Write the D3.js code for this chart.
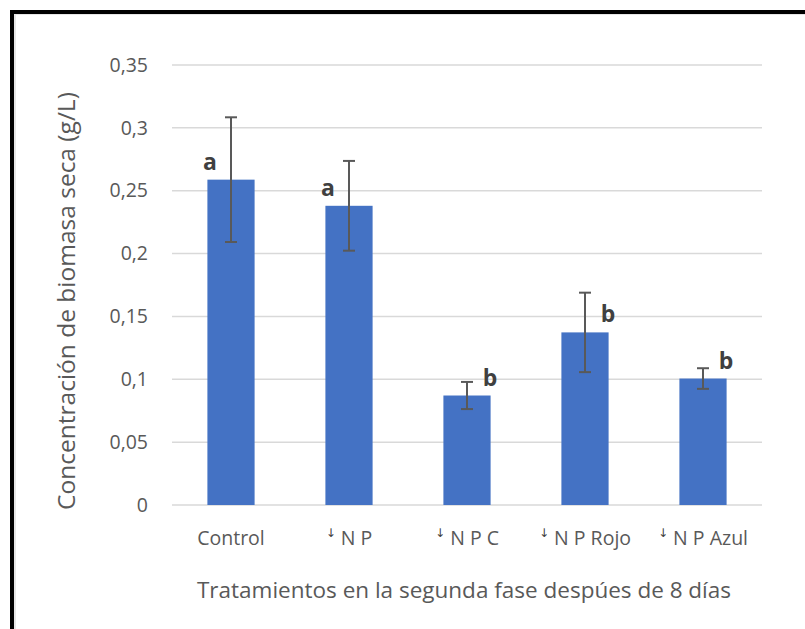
<!DOCTYPE html>
<html>
<head>
<meta charset="utf-8">
<script src="https://cdn.jsdelivr.net/npm/d3@7"></script>
<style>
  body { margin: 0; background: #fff; }
  text { font-family: "Open Sans", "Noto Sans", sans-serif; }
</style>
</head>
<body>
<script>
var categories = ["Control", "N P", "N P C", "N P Rojo", "N P Azul"];
var arrowMark = [false, true, true, true, true];
var means = [0.2588, 0.2380, 0.0871, 0.1373, 0.1006];
var errors = [0.0496, 0.0357, 0.0108, 0.0316, 0.0082];
var letters = ["a", "a", "b", "b", "b"];
var letterSide = ["left", "left", "right", "right", "right"];
var yTicks = [0, 0.05, 0.1, 0.15, 0.2, 0.25, 0.3, 0.35];

var W = 805, H = 629;
var margin = {top: 65, right: 43, bottom: 124, left: 172};
var width = W - margin.left - margin.right,
  height = H - margin.top - margin.bottom;

var svg = d3.select("body").append("svg")
  .attr("width", W)
  .attr("height", H);

// frame (only left and top edges visible)
svg.append("rect").attr("x", 14).attr("y", 13).attr("width", W).attr("height", 2).attr("fill", "#e6e6e6");
svg.append("rect").attr("x", 14).attr("y", 13).attr("width", 2).attr("height", H).attr("fill", "#e6e6e6");
svg.append("rect").attr("x", 10).attr("y", 10).attr("width", W).attr("height", 4).attr("fill", "#000");
svg.append("rect").attr("x", 10).attr("y", 10).attr("width", 4).attr("height", H).attr("fill", "#000");

var g = svg.append("g")
  .attr("transform", "translate(" + margin.left + "," + margin.top + ")");

var x = d3.scaleBand()
  .domain(categories)
  .range([0, width])
  .paddingInner(0.6)
  .paddingOuter(0.3);

var y = d3.scaleLinear()
  .domain([0, 0.35])
  .range([height, 0]);

var fmt = function(d) { return String(d).replace(".", ","); };

// gridlines
g.selectAll(".grid")
  .data(yTicks)
  .enter().append("line")
  .attr("x1", 0)
  .attr("x2", width)
  .attr("y1", function(d) { return y(d); })
  .attr("y2", function(d) { return y(d); })
  .attr("stroke", "#d9d9d9")
  .attr("stroke-width", 1.5);

// y axis labels
var yAxis = g.append("g")
  .call(d3.axisLeft(y).tickValues(yTicks).tickFormat(fmt).tickSize(0).tickPadding(24));
yAxis.select(".domain").remove();
yAxis.selectAll("text")
  .attr("fill", "#595959")
  .style("font-size", "19.5px")
  .style("font-family", "'Open Sans', sans-serif");

// bars
g.selectAll(".bar")
  .data(categories)
  .enter().append("rect")
  .attr("x", function(d) { return x(d); })
  .attr("y", function(d, i) { return y(means[i]); })
  .attr("width", x.bandwidth())
  .attr("height", function(d, i) { return height - y(means[i]); })
  .attr("fill", "#4472c4");

// error bars
var eb = g.selectAll(".err")
  .data(categories)
  .enter().append("g")
  .attr("stroke", "#595959")
  .attr("stroke-width", 2);

eb.append("line")
  .attr("x1", function(d) { return x(d) + x.bandwidth() / 2; })
  .attr("x2", function(d) { return x(d) + x.bandwidth() / 2; })
  .attr("y1", function(d, i) { return y(means[i] + errors[i]); })
  .attr("y2", function(d, i) { return y(means[i] - errors[i]); });

[1, -1].forEach(function(s) {
  eb.append("line")
    .attr("x1", function(d) { return x(d) + x.bandwidth() / 2 - 6; })
    .attr("x2", function(d) { return x(d) + x.bandwidth() / 2 + 6; })
    .attr("y1", function(d, i) { return y(means[i] + s * errors[i]); })
    .attr("y2", function(d, i) { return y(means[i] + s * errors[i]); });
});

// significance letters
g.selectAll(".letter")
  .data(categories)
  .enter().append("text")
  .attr("x", function(d, i) {
    var cx = x(d) + x.bandwidth() / 2;
    return letterSide[i] === "left" ? cx - 21 : cx + 23;
  })
  .attr("y", function(d, i) { return y(means[i]) - 10; })
  .attr("text-anchor", "middle")
  .attr("fill", "#404040")
  .style("font-size", "23px")
  .style("font-weight", "bold")
  .text(function(d, i) { return letters[i]; });

// x category labels
var xl = g.selectAll(".xlab")
  .data(categories)
  .enter().append("text")
  .attr("x", function(d) { return x(d) + x.bandwidth() / 2; })
  .attr("y", height + 40)
  .attr("text-anchor", "middle")
  .attr("fill", "#595959")
  .style("font-size", "19.5px");

xl.each(function(d, i) {
  var t = d3.select(this);
  if (arrowMark[i]) {
    t.append("tspan")
      .style("font-family", "'DejaVu Sans', sans-serif")
      .style("font-size", "12px")
      .attr("fill", "#404040")
      .attr("dy", -8)
      .text("\u2193");
    t.append("tspan").attr("dy", 8).text(" " + d);
  } else {
    t.text(d);
  }
});

// axis titles
svg.append("text")
  .attr("transform", "translate(66," + (margin.top + height / 2 + 16) + ") rotate(-90)")
  .attr("text-anchor", "middle")
  .attr("dy", "0.35em")
  .attr("fill", "#595959")
  .style("font-size", "24.5px")
  .text("Concentración de biomasa seca (g/L)");

svg.append("text")
  .attr("x", 464)
  .attr("y", 598)
  .attr("text-anchor", "middle")
  .attr("fill", "#595959")
  .style("font-size", "22.5px")
  .text("Tratamientos en la segunda fase despúes de 8 días");
</script>
</body>
</html>
